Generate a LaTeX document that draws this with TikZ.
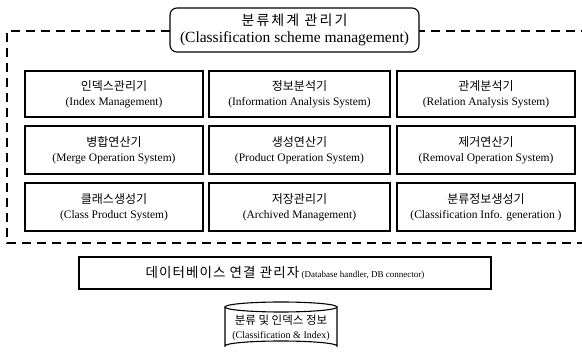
\documentclass[tikz,border=0pt]{standalone}
\usepackage{fontspec}
\setmainfont{Liberation Serif}
\newfontfamily\kr{Noto Sans CJK KR}
\newcommand{\twolines}[2]{{\kr\fontsize{12}{13}\selectfont #1}\\[3pt]{\fontsize{11.5}{12}\selectfont #2}}
\begin{document}
\begin{tikzpicture}[x=1pt,y=-1pt,
  modbox/.style={draw, line width=1.1pt, minimum width=178pt, minimum height=46pt, inner sep=0pt, align=center, fill=white},
  dashline/.style={line width=2.2pt, dash pattern=on 9pt off 6pt},
  titlebox/.style={draw, line width=1.1pt, rounded corners=7pt, minimum width=249pt, minimum height=44pt, inner sep=0pt, align=center, fill=white}]
\useasboundingbox (0,0) rectangle (582,352);
% dashed frame (right side lies outside the picture)
\draw[dashline] (590,31) -- (7,31) -- (7,243) -- (590,243);
% title
\node[titlebox] (title) at (294.5,30) {{\kr\fontsize{14}{15}\addfontfeature{LetterSpace=15}\selectfont 분류체계 관리기}\\[4pt]{\fontsize{15.5}{16}\selectfont (Classification scheme management)}};
% modules
\node[modbox] (idx) at (114,94) {\twolines{인덱스관리기}{(Index Management)}};
\node[modbox, minimum width=181pt] (info) at (299.5,94) {\twolines{정보분석기}{(Information Analysis System)}};
\node[modbox] (rel) at (486,94) {\twolines{관계분석기}{(Relation Analysis System)}};
\node[modbox, minimum height=48pt] (merge) at (114,150) {\twolines{병합연산기}{(Merge Operation System)}};
\node[modbox, minimum width=181pt, minimum height=48pt] (prod) at (299.5,150) {\twolines{생성연산기}{(Product Operation System)}};
\node[modbox, minimum height=48pt] (rem) at (486,150) {\twolines{제거연산기}{(Removal Operation System)}};
\node[modbox, minimum height=48pt] (cls) at (114,207) {\twolines{클래스생성기}{(Class Product System)}};
\node[modbox, minimum width=181pt, minimum height=48pt] (arch) at (299.5,207) {\twolines{저장관리기}{(Archived Management)}};
\node[modbox, minimum height=48pt] (cinfo) at (486,207) {\twolines{분류정보생성기}{(Classification Info. generation )}};
% database handler
\node[draw, line width=1.1pt, minimum width=412pt, minimum height=32pt, inner sep=0pt] (dbh) at (285,273)
  {{\kr\fontsize{13.5}{14}\addfontfeature{LetterSpace=8}\selectfont 데이터베이스 연결 관리자} {\fontsize{9}{10}\selectfont (Database handler, DB connector)}};
% database cylinder
\draw[line width=1.1pt] (225,307) -- (225,346) arc[start angle=180, end angle=360, x radius=56, y radius=5] -- (337,307);
\draw[line width=1.1pt] (281,307) ellipse[x radius=56, y radius=5];
\node[align=center, inner sep=0pt] (db) at (281,328) {{\kr\fontsize{11.5}{13}\selectfont 분류 및 인덱스 정보}\\[2pt]{\fontsize{10}{11}\selectfont (Classification \& Index)}};
\end{tikzpicture}
\end{document}
